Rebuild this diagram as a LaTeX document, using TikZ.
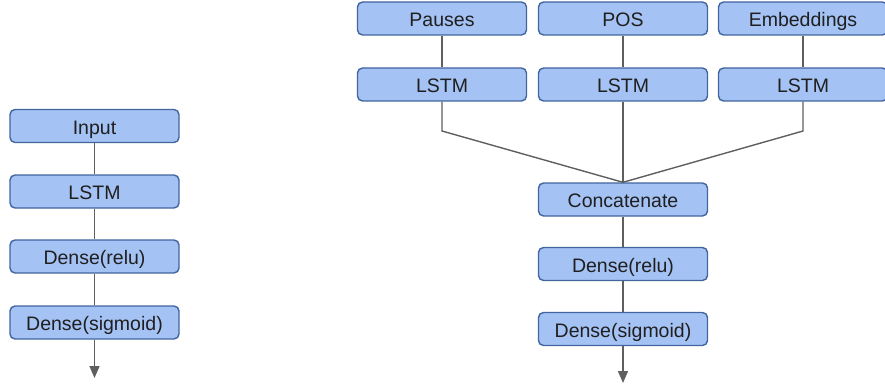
\documentclass[tikz,border=0pt]{standalone}
\usepackage{fontspec}
\setmainfont{Liberation Sans}
\usetikzlibrary{arrows.meta}
\definecolor{boxfill}{HTML}{A4C2F4}
\definecolor{boxline}{HTML}{42659E}
\definecolor{wire}{HTML}{5F5F5F}
\definecolor{ink}{HTML}{1F1F1F}
\tikzset{
  layer/.style={draw=boxline, fill=boxfill, line width=1.4pt, rounded corners=5pt,
    minimum width=169pt, minimum height=33pt, inner sep=0pt,
    text height=18pt, text depth=1.5pt,
    font=\fontsize{19.5}{22}\selectfont, text=ink},
  link/.style={draw=wire, line width=1.4pt},
  outarrow/.style={link, -{Triangle[width=10pt,length=12pt]}}
}
\begin{document}
\begin{tikzpicture}[x=1pt,y=-1pt]
\useasboundingbox (0,0) rectangle (885,385);

% single-input network
\node[layer] (in)   at (94.5,126)   {Input};
\node[layer] (lstm) at (94.5,191.5) {LSTM};
\node[layer] (dr)   at (94.5,256.5) {Dense(relu)};
\node[layer] (ds)   at (94.5,322.5) {Dense(sigmoid)};
\coordinate (out) at (94.5,378);
\draw[link] (in) -- (lstm);
\draw[link] (lstm) -- (dr);
\draw[link] (dr) -- (ds);
\draw[outarrow] (ds) -- (out);

% three-branch network
\node[layer] (pa)  at (442,18.5) {Pauses};
\node[layer] (po)  at (623,18.5) {POS};
\node[layer] (em)  at (803,18.5) {Embeddings};
\node[layer] (l1)  at (442,84.5) {LSTM};
\node[layer] (l2)  at (623,84.5) {LSTM};
\node[layer] (l3)  at (803,84.5) {LSTM};
\node[layer] (cat) at (623,199.5) {Concatenate};
\node[layer] (dr2) at (623,264)   {Dense(relu)};
\node[layer] (ds2) at (623,329)   {Dense(sigmoid)};
\coordinate (b1) at (442,131);
\coordinate (b3) at (803,131);
\coordinate (out2) at (623,383);

\draw[link] (pa) -- (l1);
\draw[link] (po) -- (l2);
\draw[link] (em) -- (l3);
\draw[link] (l1.south) -- (b1) -- (cat.north);
\draw[link] (l2) -- (cat);
\draw[link] (l3.south) -- (b3) -- (cat.north);
\draw[link] (cat) -- (dr2);
\draw[link] (dr2) -- (ds2);
\draw[outarrow] (ds2) -- (out2);
\end{tikzpicture}
\end{document}
